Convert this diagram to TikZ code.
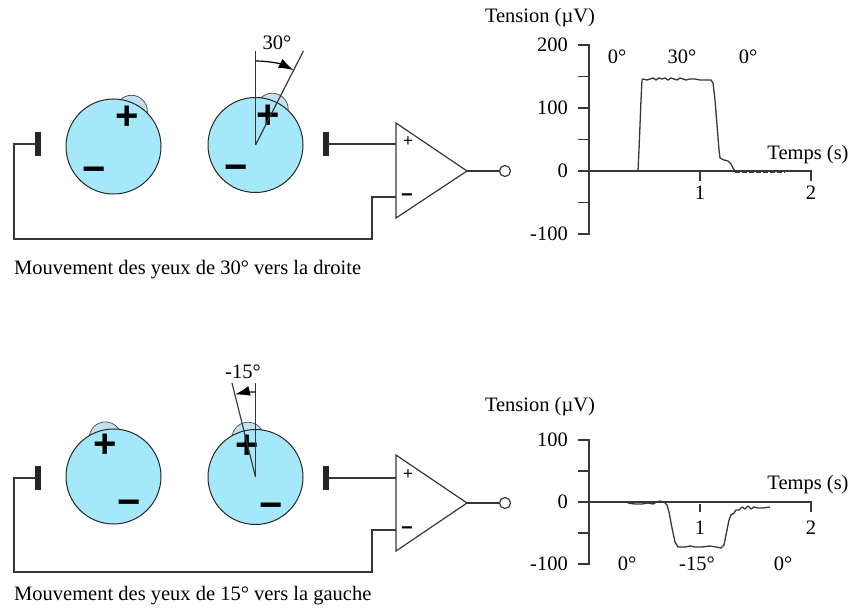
\documentclass[tikz,border=0pt]{standalone}
\usepackage{fontspec}
\setmainfont{Liberation Serif}
\newfontfamily\signfont{Liberation Sans}
\usetikzlibrary{arrows.meta}
\definecolor{eyeblue}{RGB}{165,232,250}
\definecolor{corneablue}{RGB}{195,225,245}
\definecolor{ink}{RGB}{55,55,55}
\begin{document}
\begin{tikzpicture}[x=1pt,y=-1pt,
  lbl/.style={font=\fontsize{20.5}{24}\selectfont, inner sep=0pt},
  wire/.style={draw=ink, line width=1.2pt},
  trace/.style={draw=ink, line width=1.3pt, line join=round},
  axisline/.style={draw=ink, line width=1.2pt},
  eyeball/.style={circle, draw=black!85, line width=1pt, fill=eyeblue, minimum size=95pt, inner sep=0pt},
  cornea/.style={circle, draw=black!65, line width=0.8pt, fill=corneablue, minimum size=32pt, inner sep=0pt},
  pole/.style={font=\signfont\bfseries\fontsize{40}{40}\selectfont, inner sep=0pt},
  electrode/.style={fill=black!85, minimum width=5.5pt, minimum height=24pt, inner sep=0pt},
  outpin/.style={circle, draw=ink, line width=1.2pt, fill=white, minimum size=11pt, inner sep=0pt},
  ampplus/.style={font=\signfont\fontsize{17}{17}\selectfont, inner sep=0pt},
  ampminus/.style={font=\signfont\bfseries\fontsize{20}{20}\selectfont, inner sep=0pt},
  gaze/.style={draw=ink, line width=1.2pt},
  turn/.style={draw=black, line width=1.2pt, -{Latex[length=15pt,width=10pt]}}
]
\useasboundingbox (0,0) rectangle (851,610);

%================ TOP PANEL ================
% eyes
\node[cornea] (c1) at (131.4,111.3) {};
\node[eyeball] (e1) at (113.5,146.5) {};
\node[cornea] (c2) at (272.2,109.2) {};
\node[eyeball] (e2) at (255.5,145) {};
\node[pole] (p1) at (127,118) {\vphantom{+}+};
\node[pole] (m1) at (94,171) {\vphantom{+}−};
\node[pole] (p2) at (268,117) {\vphantom{+}+};
\node[pole] (m2) at (236,169) {\vphantom{+}−};
% gaze angle
\coordinate (g0) at (255.5,145);
\coordinate (gv) at (255.5,51);
\coordinate (ga) at (303.4,51);
\coordinate (gs) at (255.5,61);
\draw[gaze] (g0) -- (gv);
\draw[gaze] (g0) -- (ga);
\draw[turn] (gs) arc[start angle=-90, end angle=-63, radius=84];
\node[lbl] (a30) at (277,43) {30°};
% electrodes & amplifier
\node[electrode] (eL1) at (38,144) {};
\node[electrode] (eR1) at (326,144) {};
\coordinate (A1tl) at (396,123);
\coordinate (A1bl) at (396,218);
\coordinate (A1o) at (467,171);
\coordinate (A1p) at (396,144);
\coordinate (A1m) at (396,197);
\draw[wire] (A1tl) -- (A1o) -- (A1bl) -- cycle;
\node[outpin] (o1) at (505,171) {};
\draw[wire] (A1o) -- (o1);
\draw[wire] (eR1.east) -- (A1p);
\draw[wire] (eL1.west) -- (14,144) -- (14,239) -- (372,239) -- (372,197) -- (A1m);
\node[ampplus] at (408,142) {+};
\node[ampminus] at (407,196) {\vphantom{+}−};
\node[lbl, anchor=west] (cap1) at (14,270) {Mouvement des yeux de 30° vers la droite};

% graph 1
\node[lbl] (t1) at (540,18) {Tension (µV)};
\draw[axisline] (578,45) -- (589,45) -- (589,234) -- (578,234);
\foreach \v in {150,100,50,0,-50} \draw[axisline] (578,{171-0.63*\v}) -- (589,{171-0.63*\v});
\draw[axisline] (589,171) -- (811,171) -- (811,181);
\draw[axisline] (700,171) -- (700,181);
\node[lbl, anchor=east] at (568,45) {200};
\node[lbl, anchor=east] at (568,108) {100};
\node[lbl, anchor=east] at (568,171) {0};
\node[lbl, anchor=east] at (568,234) {-100};
\node[lbl] at (700,193) {1};
\node[lbl] at (811,193) {2};
\node[lbl] at (808,155) {Temps (s)};
\node[lbl] at (617,57) {0°};
\node[lbl] at (682,57) {30°};
\node[lbl] at (748,57) {0°};
\draw[trace] (638,171) -- (639,150) -- (641,100) -- (642,80) -- (643,79) -- (647,80) -- (650,79) -- (653,78) -- (656,80) -- (659,78) -- (662,79) -- (665,78) -- (668,80) -- (671,78) -- (674,79) -- (677,80) -- (680,78) -- (683,79) -- (686,80) -- (690,79) -- (695,79) -- (700,80) -- (705,80) -- (711,80) -- (713,83) -- (715,100) -- (717,125) -- (719,150) -- (720,158) -- (724,160) -- (728,161) -- (731,164) -- (733,168) -- (735,171);
\draw[trace, dash pattern=on 5pt off 2pt] (735,172) -- (785,172);

%================ BOTTOM PANEL ================
\node[cornea] (c3) at (105.3,437.9) {};
\node[eyeball] (e3) at (113.5,476.5) {};
\node[cornea] (c4) at (248,438.2) {};
\node[eyeball] (e4) at (255.5,477) {};
\node[pole] (p3) at (105,446) {\vphantom{+}+};
\node[pole] (m3) at (129,504) {\vphantom{+}−};
\node[pole] (p4) at (247,447) {\vphantom{+}+};
\node[pole] (m4) at (271,507) {\vphantom{+}−};
\coordinate (h0) at (255.5,477);
\coordinate (hv) at (255.5,383);
\coordinate (ha) at (232,383);
\coordinate (hs) at (255.5,392);
\draw[gaze] (h0) -- (hv);
\draw[gaze] (h0) -- (ha);
\draw[turn] (hs) arc[start angle=-90, end angle=-104, radius=85];
\node[lbl] (a15) at (243,372) {-15°};
\node[electrode] (eL2) at (38,478) {};
\node[electrode] (eR2) at (326,478) {};
\coordinate (A2tl) at (396,455);
\coordinate (A2bl) at (396,551);
\coordinate (A2o) at (467,503);
\coordinate (A2p) at (396,478);
\coordinate (A2m) at (396,530);
\draw[wire] (A2tl) -- (A2o) -- (A2bl) -- cycle;
\node[outpin] (o2) at (505,503) {};
\draw[wire] (A2o) -- (o2);
\draw[wire] (eR2.east) -- (A2p);
\draw[wire] (eL2.west) -- (14,478) -- (14,572) -- (372,572) -- (372,530) -- (A2m);
\node[ampplus] at (408,475) {+};
\node[ampminus] at (407,529) {\vphantom{+}−};
\node[lbl, anchor=west] (cap2) at (14,596) {Mouvement des yeux de 15° vers la gauche};

% graph 2
\node[lbl] (t2) at (540,407) {Tension (µV)};
\draw[axisline] (578,440) -- (589,440) -- (589,564) -- (578,564);
\foreach \v in {50,0,-50} \draw[axisline] (578,{502-0.62*\v}) -- (589,{502-0.62*\v});
\draw[axisline] (589,502) -- (811,502) -- (811,512);
\draw[axisline] (700,504) -- (700,512);
\node[lbl, anchor=east] at (568,440) {100};
\node[lbl, anchor=east] at (568,502) {0};
\node[lbl, anchor=east] at (568,564) {-100};
\node[lbl] at (700,528) {1};
\node[lbl] at (811,528) {2};
\node[lbl] at (808,485) {Temps (s)};
\node[lbl] at (627,564) {0°};
\node[lbl] at (697,564) {-15°};
\node[lbl] at (783,564) {0°};
\draw[trace] (628,503) -- (635,504) -- (642,504) -- (648,503) -- (653,504) -- (657,502) -- (660,501) -- (664,502) -- (667,505) -- (669,512) -- (672,528) -- (675,542) -- (678,547) -- (685,547) -- (690,546) -- (695,547) -- (702,547) -- (710,546) -- (716,547) -- (721,548) -- (724,545) -- (726,535) -- (729,520) -- (731,515) -- (734,513) -- (736,510) -- (739,510) -- (742,507) -- (745,509) -- (748,506) -- (751,509) -- (754,507) -- (758,508) -- (763,508) -- (770,507);
\end{tikzpicture}
\end{document}
